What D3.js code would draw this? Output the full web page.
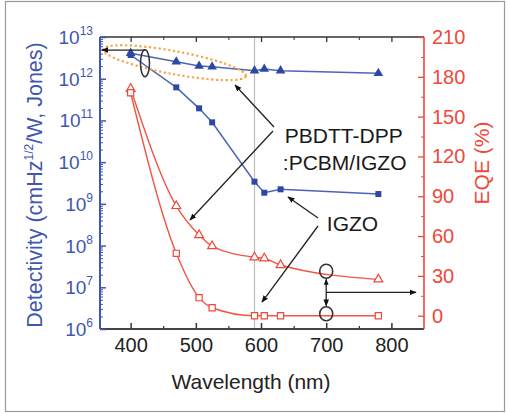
<!DOCTYPE html>
<html><head><meta charset="utf-8">
<script src="https://cdn.jsdelivr.net/npm/d3@7"></script>
<style>body{margin:0;background:#fff;} svg{display:block;font-family:"Liberation Sans",Arial,sans-serif;}</style>
</head><body><svg id="c" width="508" height="413"></svg>
<script>
// ---- data ----
const wavelengths = [400, 470, 505, 525, 590, 605, 630, 780];
const detHybrid = [4.1e12, 2.56e12, 2.02e12, 1.94e12, 1.56e12, 1.71e12, 1.56e12, 1.35e12];
const detIGZO   = [3.7e12, 6.2e11, 1.95e11, 9.0e10, 3.4e9, 1.85e9, 2.23e9, 1.72e9];
const eqeHybrid = [171, 82.7, 60.8, 52.5, 44, 43.2, 38.2, 27.4];
const eqeIGZO   = [168, 47, 13.6, 6, 0, 0, 0, 0];
const xTicks = [400, 500, 600, 700, 800];
const xMinorTicks = [450, 550, 650, 750];
const leftTickExps = [6, 7, 8, 9, 10, 11, 12, 13];
const rightTicks = [0, 30, 60, 90, 120, 150, 180, 210];
const rightMinorTicks = [15, 45, 75, 105, 135, 165, 195];
const xTitle = "Wavelength (nm)";
const labelHybrid = ["PBDTT-DPP", ":PCBM/IGZO"];
const labelIGZO = "IGZO";

// ---- setup ----
const BLUE = "#4157ad", BLUE_M = "#2c47a6", BLUE_L = "#4d64b8";
const RED = "#f0483a", RED_L = "#f25545";
const svg = d3.select("#c");
const L = 100, R = 424, T = 37, B = 329;
const x = d3.scaleLinear().domain([353, 850]).range([L, R]);
const yL = d3.scaleLog().domain([1e6, 1e13]).range([B, T]);
const yR = d3.scaleLinear().domain([-10, 210]).range([B, T]);

// frame
svg.append("rect").attr("x", 5.5).attr("y", 1.5).attr("width", 499).attr("height", 410)
  .attr("fill", "none").attr("stroke", "#9a9a9a").attr("stroke-width", 1.2);

// defs
const defs = svg.append("defs");
defs.append("marker").attr("id", "ah").attr("viewBox", "0 0 10 10").attr("refX", 9).attr("refY", 5)
  .attr("markerWidth", 7).attr("markerHeight", 7).attr("markerUnits", "userSpaceOnUse").attr("orient", "auto")
  .append("path").attr("d", "M0,1 L10,5 L0,9 Z").attr("fill", "#111");
defs.append("marker").attr("id", "ahs").attr("viewBox", "0 0 10 10").attr("refX", 1).attr("refY", 5)
  .attr("markerWidth", 6).attr("markerHeight", 6).attr("markerUnits", "userSpaceOnUse").attr("orient", "auto")
  .append("path").attr("d", "M10,1 L0,5 L10,9 Z").attr("fill", "#111");

// gray vertical line at 590
svg.append("line").attr("x1", x(590)).attr("x2", x(590)).attr("y1", T).attr("y2", B)
  .attr("stroke", "#bdbdbd").attr("stroke-width", 1.2);

// ---- axes ----
const gB = svg.append("g").attr("transform", `translate(0,${B})`)
  .call(d3.axisBottom(x).tickValues(xTicks).tickSize(-6).tickPadding(9).tickFormat(d3.format("d")));
gB.select(".domain").remove();
svg.append("g").attr("transform", `translate(0,${B})`)
  .call(d3.axisBottom(x).tickValues(xMinorTicks).tickSize(-3).tickFormat(""))
  .select(".domain").remove();
gB.selectAll("text").attr("font-size", 20).attr("fill", "#222").attr("font-family", "Liberation Sans, Arial, sans-serif");
gB.selectAll("line").attr("stroke", "#333").attr("stroke-width", 1.5);

const gT = svg.append("g").attr("transform", `translate(0,${T})`)
  .call(d3.axisTop(x).tickValues(xTicks).tickSize(-5).tickFormat(""));
gT.select(".domain").remove();
gT.selectAll("line").attr("stroke", "#333").attr("stroke-width", 1.3);
svg.append("g").attr("transform", `translate(0,${T})`)
  .call(d3.axisTop(x).tickValues(xMinorTicks).tickSize(-3).tickFormat(""))
  .call(g => g.select(".domain").remove())
  .selectAll("line").attr("stroke", "#333");

svg.append("line").attr("x1", L).attr("x2", R).attr("y1", B).attr("y2", B).attr("stroke", "#444").attr("stroke-width", 2);
svg.append("line").attr("x1", L).attr("x2", R).attr("y1", T).attr("y2", T).attr("stroke", "#333").attr("stroke-width", 1.5);

// left axis
const leftMajor = leftTickExps.map(e => Math.pow(10, e));
const leftMinor = [];
leftTickExps.slice(0, -1).forEach(e => { for (let m = 2; m <= 9; m++) leftMinor.push(m * Math.pow(10, e)); });
const gL = svg.append("g").attr("transform", `translate(${L},0)`)
  .call(d3.axisLeft(yL).tickValues(leftMajor).tickSize(-6).tickFormat(""));
gL.select(".domain").remove();
gL.selectAll("line").attr("stroke", BLUE).attr("stroke-width", 1.5);
svg.append("g").attr("transform", `translate(${L},0)`)
  .call(d3.axisLeft(yL).tickValues(leftMinor).tickSize(-3).tickFormat(""))
  .call(g => g.select(".domain").remove())
  .selectAll("line").attr("stroke", BLUE).attr("stroke-width", 1);
svg.append("line").attr("x1", L).attr("x2", R === 0 ? 0 : L).attr("y1", T).attr("y2", B).attr("stroke", BLUE).attr("stroke-width", 2);
const lt = svg.append("g").selectAll("text").data(leftTickExps).join("text")
  .attr("x", L - 7).attr("y", d => yL(Math.pow(10, d)) + 7)
  .attr("text-anchor", "end").attr("fill", BLUE).attr("font-size", 19);
lt.append("tspan").text("10");
lt.append("tspan").attr("font-size", 12).attr("dy", -9).text(d => d);

// right axis
const gR = svg.append("g").attr("transform", `translate(${R},0)`)
  .call(d3.axisRight(yR).tickValues(rightTicks).tickSize(-6).tickPadding(8).tickFormat(d3.format("d")));
gR.select(".domain").remove();
gR.selectAll("line").attr("stroke", RED).attr("stroke-width", 1.3);
gR.selectAll("text").attr("fill", RED).attr("font-size", 20).attr("font-family", "Liberation Sans, Arial, sans-serif");
svg.append("g").attr("transform", `translate(${R},0)`)
  .call(d3.axisRight(yR).tickValues(rightMinorTicks).tickSize(-3).tickFormat(""))
  .call(g => g.select(".domain").remove())
  .selectAll("line").attr("stroke", RED);
svg.append("line").attr("x1", R).attr("x2", R).attr("y1", T).attr("y2", B).attr("stroke", RED).attr("stroke-width", 1.6);

// axis titles
svg.append("text").attr("x", 251).attr("y", 389).attr("text-anchor", "middle")
  .attr("font-size", 21).attr("fill", "#222").text(xTitle);
const lTitle = svg.append("text").attr("transform", "translate(42,185) rotate(-90)")
  .attr("text-anchor", "middle").attr("font-size", 21.5).attr("fill", BLUE);
lTitle.append("tspan").text("Detectivity (cmHz");
lTitle.append("tspan").attr("font-size", 12).attr("dy", -9).text("1/2");
lTitle.append("tspan").attr("dy", 9).text("/W, Jones)");
svg.append("text").attr("transform", "translate(489,163) rotate(-90)")
  .attr("text-anchor", "middle").attr("font-size", 21).attr("fill", RED).text("EQE (%)");

// ---- series ----
const rows = wavelengths.map((w, i) => ({ w, dh: detHybrid[i], di: detIGZO[i], eh: eqeHybrid[i], ei: eqeIGZO[i] }));
const lineDet = key => d3.line().x(d => x(d.w)).y(d => yL(d[key]));
const lineEqe = key => d3.line().curve(d3.curveMonotoneX).x(d => x(d.w)).y(d => yR(d[key]));

svg.append("path").datum(rows).attr("d", lineDet("dh")).attr("fill", "none").attr("stroke", BLUE_L).attr("stroke-width", 1.5);
svg.append("path").datum(rows).attr("d", lineDet("di")).attr("fill", "none").attr("stroke", BLUE_L).attr("stroke-width", 1.5);
svg.append("path").datum(rows).attr("d", lineEqe("eh")).attr("fill", "none").attr("stroke", RED_L).attr("stroke-width", 1.4);
svg.append("path").datum(rows).attr("d", lineEqe("ei")).attr("fill", "none").attr("stroke", RED_L).attr("stroke-width", 1.4);

const tri = d3.symbol().type(d3.symbolTriangle).size(40)();
const sq = d3.symbol().type(d3.symbolSquare).size(36)();
const sqO = d3.symbol().type(d3.symbolSquare).size(38)();
const triO = d3.symbol().type(d3.symbolTriangle).size(34)();

svg.append("g").selectAll("path").data(rows).join("path").attr("d", tri)
  .attr("transform", d => `translate(${x(d.w)},${yL(d.dh)})`).attr("fill", BLUE_M);
svg.append("g").selectAll("path").data(rows).join("path").attr("d", sq)
  .attr("transform", d => `translate(${x(d.w)},${yL(d.di)})`).attr("fill", BLUE_M);
svg.append("g").selectAll("path").data(rows).join("path").attr("d", triO)
  .attr("transform", d => `translate(${x(d.w)},${yR(d.eh)})`).attr("fill", "#fff").attr("stroke", RED).attr("stroke-width", 1.2);
svg.append("g").selectAll("path").data(rows).join("path").attr("d", sqO)
  .attr("transform", d => `translate(${x(d.w)},${yR(d.ei)})`).attr("fill", "#fff").attr("stroke", RED).attr("stroke-width", 1.2);

// ---- annotations ----
const P = (w, v) => [x(w), yR(v)];
const PD = (w, v) => [x(w), yL(v)];
function arrow(a, b, both) {
  const l = svg.append("line").attr("x1", a[0]).attr("y1", a[1]).attr("x2", b[0]).attr("y2", b[1])
    .attr("stroke", "#222").attr("stroke-width", 1.3).attr("marker-end", "url(#ah)");
  if (both) l.attr("marker-start", "url(#ahs)");
}

// orange dotted ellipse
const oc = PD(467.3, 2.42e12);
svg.append("ellipse").attr("cx", 0).attr("cy", 0).attr("rx", 72.5).attr("ry", 11.5)
  .attr("transform", `translate(${oc[0]},${oc[1]}) rotate(10.6)`)
  .attr("fill", "none").attr("stroke", "#f5a544").attr("stroke-width", 2.2).attr("stroke-dasharray", "2.2,2.6");
// black small ellipse + arrow to left axis
const bc = PD(422, 2.34e12);
svg.append("ellipse").attr("cx", bc[0]).attr("cy", bc[1]).attr("rx", 4.5).attr("ry", 13.5)
  .attr("fill", "none").attr("stroke", "#333").attr("stroke-width", 1.5);
arrow(PD(422, 4.87e12), PD(356, 4.87e12));

// PBDTT-DPP label arrows
arrow(P(619.9, 142.2), P(560.1, 173.8));
arrow(P(618.4, 139.2), P(491.1, 72.1));
// IGZO label arrows
arrow(P(687.4, 73.6), P(641.4, 89.5));
arrow(P(687.4, 67.6), P(601.5, 10.3));

const tx1 = P(636.5, 130.1), tx2 = P(633.5, 109.8), tx3 = P(701, 63.8);
svg.append("text").attr("x", tx1[0]).attr("y", tx1[1]).attr("font-size", 21).attr("fill", "#1a1a1a").text(labelHybrid[0]);
svg.append("text").attr("x", tx2[0]).attr("y", tx2[1]).attr("font-size", 21).attr("fill", "#1a1a1a").text(labelHybrid[1]);
svg.append("text").attr("x", tx3[0]).attr("y", tx3[1]).attr("font-size", 21).attr("fill", "#1a1a1a").text(labelIGZO);

// circles at 700 nm
const c1 = P(700, 33.5), c2 = P(700, 1.5);
[c1, c2].forEach(c => svg.append("ellipse").attr("cx", c[0]).attr("cy", c[1]).attr("rx", 6.5).attr("ry", 7)
  .attr("fill", "none").attr("stroke", "#333").attr("stroke-width", 1.6));
arrow([c1[0], c1[1] + 8], [c2[0], c2[1] - 8], true);
arrow(P(700, 17.6), P(837.7, 17.6));
</script></body></html>
